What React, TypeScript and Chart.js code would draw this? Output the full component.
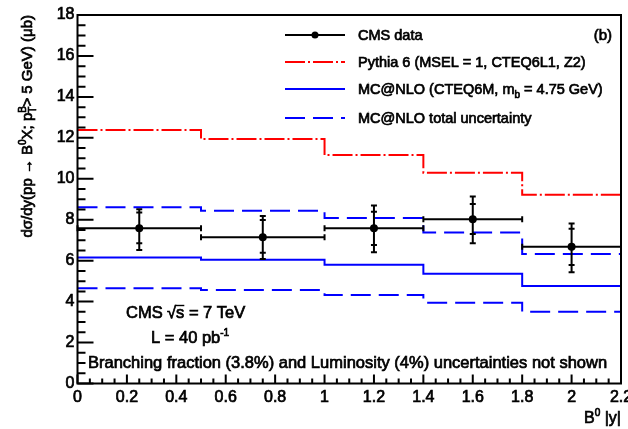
import React, { useEffect, useRef } from "react";
import { Chart, registerables } from "chart.js";

Chart.register(...registerables);

// ---------- data ----------
const binEdges = [0, 0.5, 1.0, 1.4, 1.8, 2.2];
const binCenters = [0.25, 0.75, 1.2, 1.6, 2.0];
const cmsData = [7.58, 7.14, 7.58, 8.02, 6.68];
const cmsStatHigh = [8.35, 7.99, 8.39, 8.77, 7.56];
const cmsStatLow = [6.85, 6.39, 6.77, 7.3, 5.79];
const cmsTotalHigh = [8.51, 8.18, 8.69, 9.13, 7.81];
const cmsTotalLow = [6.52, 6.08, 6.41, 6.85, 5.43];
const pythia = [12.38, 11.94, 11.16, 10.3, 9.22];
const mcnlo = [6.16, 6.05, 5.8, 5.36, 4.76];
const mcnloHigh = [8.61, 8.44, 8.09, 7.37, 6.33];
const mcnloLow = [4.65, 4.57, 4.32, 3.95, 3.51];

const xMin = 0;
const xMax = 2.2;
const xStep = 0.2;
const xMinorStep = 0.05;
const yMin = 0;
const yMax = 18;
const yStep = 2;
const yMinorStep = 0.5;

const legendLabels = [
  "CMS data",
  "Pythia 6 (MSEL = 1, CTEQ6L1, Z2)",
  "MC@NLO (CTEQ6M, m",
  "MC@NLO total uncertainty",
];

const FONT = '"Liberation Sans", Arial, Helvetica, sans-serif';
const RED = "#ff0000";
const BLUE = "#0000ff";
const RED_DASH = [20, 3, 2, 3];
const BLUE_DASH = [20, 8];
const TEXT_STROKE = 0.7;

type Seg = { t: string; s: number; dy?: number; noAdv?: boolean; over?: boolean };

function drawRich(
  ctx: CanvasRenderingContext2D,
  segs: Seg[],
  x: number,
  y: number,
  align: "left" | "right" | "center" = "left"
) {
  ctx.textAlign = "left";
  ctx.textBaseline = "alphabetic";
  ctx.lineWidth = TEXT_STROKE;
  ctx.strokeStyle = "#000";
  ctx.setLineDash([]);
  const widths = segs.map((sg) => {
    ctx.font = `${sg.s}px ${FONT}`;
    return sg.noAdv ? 0 : ctx.measureText(sg.t).width;
  });
  const total = widths.reduce((a, b) => a + b, 0);
  let cx = align === "left" ? x : align === "right" ? x - total : x - total / 2;
  segs.forEach((sg, i) => {
    ctx.font = `${sg.s}px ${FONT}`;
    ctx.fillText(sg.t, cx, y + (sg.dy ?? 0));
    ctx.strokeText(sg.t, cx, y + (sg.dy ?? 0));
    if (sg.over) {
      const w = ctx.measureText(sg.t).width;
      ctx.fillRect(cx - 1, y - sg.s * 0.8, w + 1, 1.4);
    }
    cx += widths[i];
  });
}

function steps(values: number[]) {
  return binEdges.map((x, i) => ({ x, y: values[Math.min(i, values.length - 1)] }));
}

const overlayPlugin = {
  id: "rootStyle",
  afterDatasetsDraw(chart: any) {
    const ctx: CanvasRenderingContext2D = chart.ctx;
    const xs = chart.scales.x;
    const ys = chart.scales.y;
    ctx.save();
    ctx.strokeStyle = "#000";
    ctx.lineWidth = 2;
    ctx.setLineDash([]);
    const cap = 3;
    for (let i = 0; i < cmsData.length; i++) {
      const x0 = xs.getPixelForValue(binEdges[i]);
      const x1 = xs.getPixelForValue(binEdges[i + 1]);
      const xc = xs.getPixelForValue(binCenters[i]);
      const yc = ys.getPixelForValue(cmsData[i]);
      ctx.beginPath();
      ctx.moveTo(x0, yc);
      ctx.lineTo(x1, yc);
      ctx.moveTo(x0, yc - cap);
      ctx.lineTo(x0, yc + cap);
      ctx.moveTo(x1, yc - cap);
      ctx.lineTo(x1, yc + cap);
      const yth = ys.getPixelForValue(cmsTotalHigh[i]);
      const ytl = ys.getPixelForValue(cmsTotalLow[i]);
      const ysh = ys.getPixelForValue(cmsStatHigh[i]);
      const ysl = ys.getPixelForValue(cmsStatLow[i]);
      ctx.moveTo(xc, yth);
      ctx.lineTo(xc, ytl);
      [yth, ytl, ysh, ysl].forEach((yy) => {
        ctx.moveTo(xc - cap, yy);
        ctx.lineTo(xc + cap, yy);
      });
      ctx.stroke();
    }
    ctx.restore();
  },
  afterDraw(chart: any) {
    const ctx: CanvasRenderingContext2D = chart.ctx;
    const a = chart.chartArea;
    const xs = chart.scales.x;
    const ys = chart.scales.y;
    ctx.save();
    ctx.fillStyle = "#000";
    ctx.strokeStyle = "#000";
    ctx.setLineDash([]);
    // frame
    ctx.lineWidth = 2;
    ctx.strokeRect(a.left, a.top, a.right - a.left, a.bottom - a.top);
    // ticks
    ctx.lineWidth = 2;
    ctx.beginPath();
    const nY = Math.round((yMax - yMin) / yMinorStep);
    for (let k = 0; k <= nY; k++) {
      const v = yMin + k * yMinorStep;
      const major = Math.abs(v / yStep - Math.round(v / yStep)) < 1e-6;
      const py = ys.getPixelForValue(v);
      ctx.moveTo(a.left, py);
      ctx.lineTo(a.left + (major ? 16 : 8), py);
    }
    const nX = Math.round((xMax - xMin) / xMinorStep);
    for (let k = 0; k <= nX; k++) {
      const v = xMin + k * xMinorStep;
      const major = Math.abs(v / xStep - Math.round(v / xStep)) < 1e-6;
      const px = xs.getPixelForValue(v);
      ctx.moveTo(px, a.bottom);
      ctx.lineTo(px, a.bottom - (major ? 9 : 5));
    }
    ctx.stroke();

    // legend
    const lx0 = 285;
    const lx1 = 345;
    const tx = 358;
    const rows = [35, 62, 89, 118];
    const styles = [
      { c: "#000", d: [] as number[] },
      { c: RED, d: RED_DASH },
      { c: BLUE, d: [] as number[] },
      { c: BLUE, d: BLUE_DASH },
    ];
    rows.forEach((ry, i) => {
      ctx.strokeStyle = styles[i].c;
      ctx.setLineDash(styles[i].d);
      ctx.lineWidth = 2;
      ctx.beginPath();
      ctx.moveTo(lx0, ry);
      ctx.lineTo(lx1, ry);
      ctx.stroke();
    });
    ctx.setLineDash([]);
    ctx.beginPath();
    ctx.arc((lx0 + lx1) / 2, rows[0], 3.5, 0, Math.PI * 2);
    ctx.fill();
    const LS = 14.5;
    drawRich(ctx, [{ t: legendLabels[0], s: LS }], tx, rows[0] + 5);
    drawRich(ctx, [{ t: legendLabels[1], s: LS }], tx, rows[1] + 5);
    drawRich(
      ctx,
      [
        { t: legendLabels[2], s: LS },
        { t: "b", s: 10, dy: 4 },
        { t: " = 4.75 GeV)", s: LS },
      ],
      tx,
      rows[2] + 5
    );
    drawRich(ctx, [{ t: legendLabels[3], s: LS }], tx, rows[3] + 5);
    drawRich(ctx, [{ t: "(b)", s: 15 }], 612, rows[0] + 5, "right");

    // annotations
    const AS = 16.5;
    drawRich(ctx, [{ t: "CMS", s: AS }], 126, 318);
    drawRich(
      ctx,
      [
        { t: "\u221A", s: AS },
        { t: "s", s: AS, over: true },
        { t: " = 7 TeV", s: AS },
      ],
      167,
      318
    );
    drawRich(
      ctx,
      [
        { t: "L = 40 pb", s: AS },
        { t: "-1", s: 10, dy: -7 },
      ],
      151,
      343
    );
    drawRich(
      ctx,
      [{ t: "Branching fraction (3.8%) and Luminosity (4%) uncertainties not shown", s: AS }],
      88,
      368
    );

    // x title
    drawRich(
      ctx,
      [
        { t: "B", s: 16 },
        { t: "0", s: 10, dy: -7 },
        { t: " |y|", s: 16 },
      ],
      621,
      423,
      "right"
    );

    // y title (rotated)
    ctx.save();
    ctx.translate(32, 15);
    ctx.rotate(-Math.PI / 2);
    drawRich(
      ctx,
      [
        { t: "d\u03C3/dy(pp \u2192 B", s: 15 },
        { t: "0", s: 10, dy: -6 },
        { t: "X; p", s: 15 },
        { t: "B", s: 10, dy: -6, noAdv: true },
        { t: "T", s: 10, dy: 4 },
        { t: "> 5 GeV) (\u03BCb)", s: 15 },
      ],
      0,
      0,
      "right"
    );
    ctx.restore();

    ctx.restore();
  },
};

export default function App() {
  const ref = useRef<HTMLCanvasElement | null>(null);
  useEffect(() => {
    if (!ref.current) return;
    Chart.defaults.font.family = FONT;
    const chart = new Chart(ref.current, {
      type: "line",
      data: {
        datasets: [
          {
            label: "Pythia 6",
            data: steps(pythia),
            borderColor: RED,
            borderWidth: 2,
            borderDash: RED_DASH,
            stepped: "before",
            pointRadius: 0,
            fill: false,
          },
          {
            label: "MC@NLO high",
            data: steps(mcnloHigh),
            borderColor: BLUE,
            borderWidth: 2,
            borderDash: BLUE_DASH,
            stepped: "before",
            pointRadius: 0,
            fill: false,
          },
          {
            label: "MC@NLO",
            data: steps(mcnlo),
            borderColor: BLUE,
            borderWidth: 2,
            stepped: "before",
            pointRadius: 0,
            fill: false,
          },
          {
            label: "MC@NLO low",
            data: steps(mcnloLow),
            borderColor: BLUE,
            borderWidth: 2,
            borderDash: BLUE_DASH,
            stepped: "before",
            pointRadius: 0,
            fill: false,
          },
          {
            label: "CMS data",
            data: binCenters.map((x, i) => ({ x, y: cmsData[i] })),
            showLine: false,
            pointRadius: 4,
            pointBackgroundColor: "#000",
            pointBorderColor: "#000",
            pointBorderWidth: 0,
          },
        ],
      } as any,
      options: {
        animation: false,
        responsive: false,
        devicePixelRatio: 1,
        layout: { padding: { top: 15, right: 7, left: 0, bottom: 0 } },
        plugins: { legend: { display: false }, tooltip: { enabled: false } },
        scales: {
          x: {
            type: "linear",
            min: xMin,
            max: xMax,
            ticks: {
              stepSize: xStep,
              autoSkip: false,
              maxRotation: 0,
              padding: 4,
              color: "#000",
              textStrokeColor: "#000",
              textStrokeWidth: TEXT_STROKE,
              font: { size: 16, family: FONT },
              callback: (v: any) => String(Math.round(Number(v) * 10) / 10),
            },
            grid: { display: false, drawTicks: false },
            border: { display: false },
            afterFit: (s: any) => {
              s.height = 45.5;
              s.paddingLeft = 0;
              s.paddingRight = 0;
            },
          },
          y: {
            type: "linear",
            min: yMin,
            max: yMax,
            ticks: {
              stepSize: yStep,
              padding: 3,
              color: "#000",
              textStrokeColor: "#000",
              textStrokeWidth: TEXT_STROKE,
              font: { size: 16, family: FONT },
            },
            grid: { display: false, drawTicks: false },
            border: { display: false },
            afterFit: (s: any) => {
              s.width = 77.5;
              s.paddingTop = 0;
              s.paddingBottom = 0;
            },
          },
        },
      } as any,
      plugins: [overlayPlugin],
    });
    return () => chart.destroy();
  }, []);
  return (
    <div style={{ position: "fixed", left: 0, top: 0, width: 628, height: 429, background: "#fff" }}>
      <canvas ref={ref} width={628} height={429} style={{ display: "block", width: 628, height: 429 }} />
    </div>
  );
}
